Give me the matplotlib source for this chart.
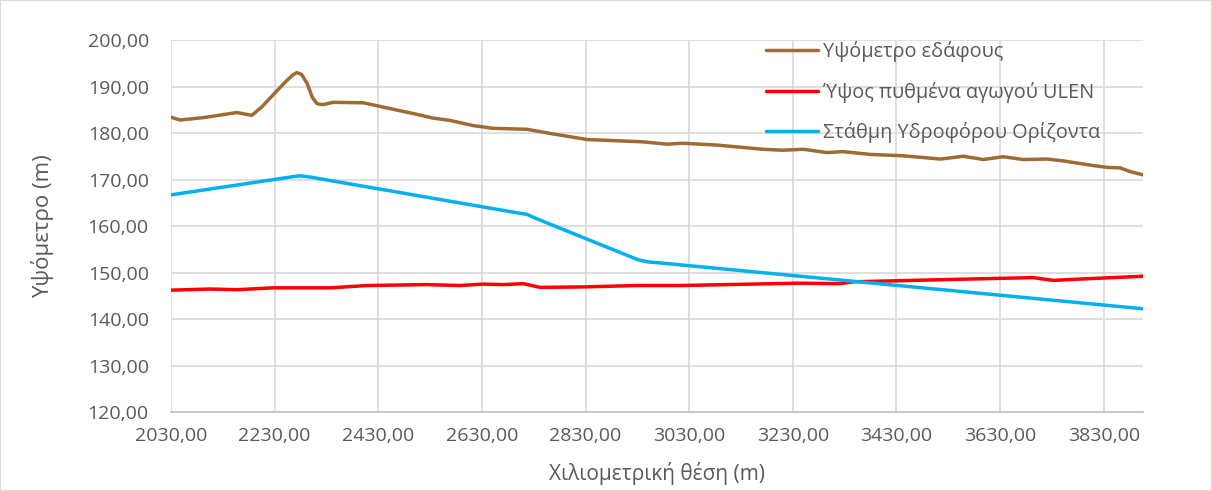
import matplotlib
matplotlib.use("Agg")
import matplotlib.pyplot as plt
from matplotlib.ticker import FuncFormatter, MultipleLocator
from matplotlib.patches import Rectangle

plt.rcParams['font.family'] = ['Open Sans', 'DejaVu Sans']

# Υψόμετρο εδάφους
ground_x = [2030, 2047, 2092, 2157, 2186, 2205, 2227, 2250, 2265, 2273, 2282, 2293, 2303, 2312,
            2323, 2343, 2401, 2459, 2497, 2536, 2569, 2613, 2652, 2717, 2762, 2833, 2941, 2987,
            3018, 3084, 3173, 3211, 3250, 3296, 3327, 3379, 3443, 3515, 3559, 3598, 3636,
            3675, 3721, 3752, 3804, 3837, 3862, 3881, 3906]
ground_y = [183.4, 182.8, 183.3, 184.4, 183.8, 185.6, 188.2, 190.9, 192.5, 193.0, 192.6, 190.6, 187.6, 186.3,
            186.1, 186.6, 186.5, 185.1, 184.2, 183.2, 182.7, 181.6, 181.0, 180.8, 179.9, 178.6, 178.1, 177.6,
            177.8, 177.4, 176.5, 176.3, 176.5, 175.8, 176.0, 175.4, 175.1, 174.4, 175.0, 174.3, 174.9,
            174.3, 174.4, 174.0, 173.1, 172.6, 172.5, 171.7, 171.0]

# Ύψος πυθμένα αγωγού ULEN
pipe_x = [2030, 2105, 2157, 2227, 2337, 2408, 2524, 2588, 2632, 2671, 2710, 2742,
          2825, 2930, 3013, 3238, 3321, 3347, 3572, 3694, 3733, 3766, 3887, 3906]
pipe_y = [146.2, 146.45, 146.3, 146.7, 146.7, 147.2, 147.4, 147.2, 147.5, 147.4, 147.6, 146.8,
          146.9, 147.2, 147.2, 147.7, 147.6, 148.0, 148.6, 148.9, 148.3, 148.5, 149.1, 149.2]

# Στάθμη Υδροφόρου Ορίζοντα
water_x = [2030, 2265, 2279, 2300, 2700, 2717, 2735, 2930, 2949, 2970, 3906]
water_y = [166.7, 170.6, 170.8, 170.5, 162.8, 162.5, 161.6, 152.8, 152.3, 152.1, 142.2]

x_ticks = [2030, 2230, 2430, 2630, 2830, 3030, 3230, 3430, 3630, 3830]

labels = ['Υψόμετρο εδάφους', 'Ύψος πυθμένα αγωγού ULEN', 'Στάθμη Υδροφόρου Ορίζοντα']
colors = ['#9E6B34', '#FF0000', '#00B0F0']

fig = plt.figure(figsize=(12.12, 4.91), dpi=100)
ax = fig.add_axes([0.1411, 0.1609, 0.8020, 0.7576])

for xs, ys, lab, c in zip([ground_x, pipe_x, water_x], [ground_y, pipe_y, water_y], labels, colors):
    ax.plot(xs, ys, color=c, lw=2.5, label=lab, solid_joinstyle='round', solid_capstyle='round')

ax.set_xlim(2030, 3906)
ax.set_ylim(120, 200)
ax.set_xticks(x_ticks)
ax.yaxis.set_major_locator(MultipleLocator(10))
fmt = FuncFormatter(lambda v, p: f"{v:.2f}".replace('.', ','))
ax.xaxis.set_major_formatter(fmt)
ax.yaxis.set_major_formatter(fmt)
ax.grid(True, color='#D9D9D9', lw=1.2)
ax.set_axisbelow(True)
for s in ['top', 'right', 'left']:
    ax.spines[s].set_visible(False)
ax.spines['bottom'].set_color('#BFBFBF')
ax.spines['bottom'].set_linewidth(1.2)
ax.tick_params(length=0, labelsize=14, labelcolor='#595959')
ax.tick_params(axis='y', pad=16)
ax.tick_params(axis='x', pad=11)

ax.set_xlabel('Χιλιομετρική θέση (m)', fontsize=15, color='#595959', labelpad=12)
ax.set_ylabel('Υψόμετρο (m)', fontsize=16, color='#595959', labelpad=24)

ax.legend(loc='upper left', bbox_to_anchor=(0.594, 1.045), frameon=False, fontsize=14.3,
          labelcolor='#595959', handlelength=2.6, handletextpad=0.25, labelspacing=0.98)

fig.patches.append(Rectangle((0.0, 0.0), 1, 1, transform=fig.transFigure, fill=False,
                             edgecolor='#D9D9D9', lw=1.5))

fig.savefig('out.png', dpi=100)
